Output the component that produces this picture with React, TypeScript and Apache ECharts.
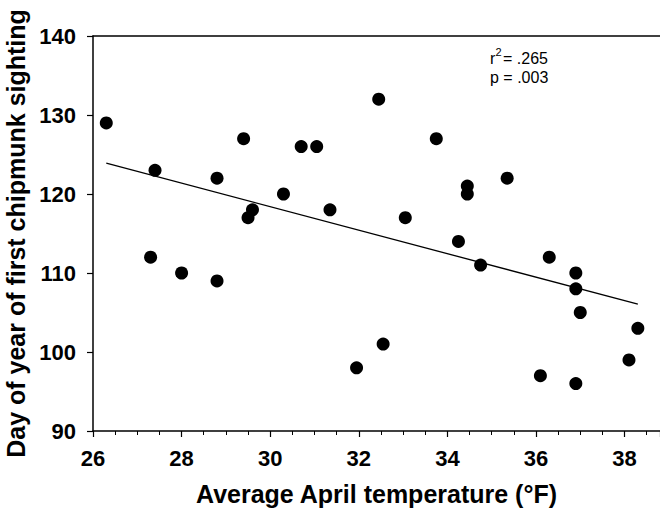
import React, { useEffect, useRef } from "react";
import * as echarts from "echarts";

const temperatures = [
  26.3, 27.4, 27.3, 28.0, 28.8, 28.8, 29.4, 29.5, 29.6, 30.3, 30.7, 31.05, 31.35, 31.95,
  32.45, 32.55, 33.05, 33.75, 34.25, 34.45, 34.45, 34.75, 35.35, 36.3, 36.1, 36.9, 36.9,
  37.0, 36.9, 38.3, 38.1,
];
const sightingDays = [
  129, 123, 112, 110, 122, 109, 127, 117, 118, 120, 126, 126, 118, 98,
  132, 101, 117, 127, 114, 121, 120, 111, 122, 112, 97, 110, 108,
  105, 96, 103, 99,
];
const fitX = [26.3, 38.3];
const fitY = [123.9, 106.05];
const yTicks = [90, 100, 110, 120, 130, 140];
const xTicks = [26, 28, 30, 32, 34, 36, 38];
const statsText = ["r", "2", "= .265", "p = .003"];

const BOLD = '"Liberation Sans", Arial, sans-serif';
const REG = '"Liberation Sans", Arial, sans-serif';

export default function App() {
  const ref = useRef<HTMLDivElement>(null);
  useEffect(() => {
    if (!ref.current) return;
    const chart = echarts.init(ref.current, null, { renderer: "svg" });
    const points = temperatures.map((t, i) => [t, sightingDays[i]]);
    const fit = fitX.map((x, i) => [x, fitY[i]]);
    chart.setOption({
      animation: false,
      backgroundColor: "#fff",
      grid: {
        left: 93,
        top: 36,
        right: 0,
        bottom: 79,
        containLabel: false,
        outerBoundsMode: "none",
      },
      xAxis: [
        {
          type: "value",
          min: xTicks[0],
          max: 38.8,
          interval: 2,
          name: "Average April temperature (°F)",
          nameLocation: "middle",
          nameGap: 50,
          nameTextStyle: { fontFamily: BOLD, fontWeight: "bold", fontSize: 25, color: "#000" },
          axisLine: { show: true, onZero: false, lineStyle: { color: "#000", width: 1.5 } },
          axisTick: { show: true, inside: false, length: 6, lineStyle: { color: "#000", width: 1.2 } },
          minorTick: { show: true, splitNumber: 4, length: 4, lineStyle: { color: "#000", width: 1 } },
          axisLabel: {
            margin: 16,
            fontFamily: BOLD,
            fontWeight: "bold",
            fontSize: 22,
            color: "#000",
            showMaxLabel: false,
            formatter: (v: number) => (xTicks.includes(v) ? String(v) : ""),
          },
          splitLine: { show: false },
        },
        {
          type: "value",
          position: "top",
          min: xTicks[0],
          max: 38.8,
          interval: 2,
          axisLine: { show: true, onZero: false, lineStyle: { color: "#000", width: 1.5 } },
          axisTick: { show: false },
          axisLabel: { show: false },
          splitLine: { show: false },
        },
      ],
      yAxis: {
        type: "value",
        min: yTicks[0],
        max: yTicks[yTicks.length - 1],
        interval: 10,
        name: "Day of year of first chipmunk sighting",
        nameLocation: "middle",
        nameGap: 60,
        nameTextStyle: { fontFamily: BOLD, fontWeight: "bold", fontSize: 25, color: "#000" },
        axisLine: { show: true, onZero: false, lineStyle: { color: "#000", width: 1.5 } },
        axisTick: { show: true, inside: false, length: 6, lineStyle: { color: "#000", width: 1.2 } },
        axisLabel: { margin: 17, fontFamily: BOLD, fontWeight: "bold", fontSize: 22, color: "#000" },
        splitLine: { show: false },
      },
      series: [
        {
          type: "scatter",
          data: points,
          symbol: "circle",
          symbolSize: 13,
          itemStyle: { color: "#000", opacity: 1 },
          z: 3,
        },
        {
          type: "line",
          data: fit,
          symbol: "none",
          lineStyle: { color: "#000", width: 1.3 },
          z: 2,
        },
      ],
      graphic: [
        { type: "text", left: 490, top: 50, style: { text: statsText[0], font: `16px ${REG}`, fill: "#000" } },
        { type: "text", left: 495.5, top: 46, style: { text: statsText[1], font: `11px ${REG}`, fill: "#000" } },
        { type: "text", left: 503, top: 50, style: { text: statsText[2], font: `16px ${REG}`, fill: "#000" } },
        { type: "text", left: 490, top: 69, style: { text: statsText[3], font: `16px ${REG}`, fill: "#000" } },
      ],
    });
    return () => chart.dispose();
  }, []);
  return (
    <div
      ref={ref}
      style={{ position: "fixed", left: 0, top: 0, width: 660, height: 510, background: "#fff" }}
    />
  );
}
